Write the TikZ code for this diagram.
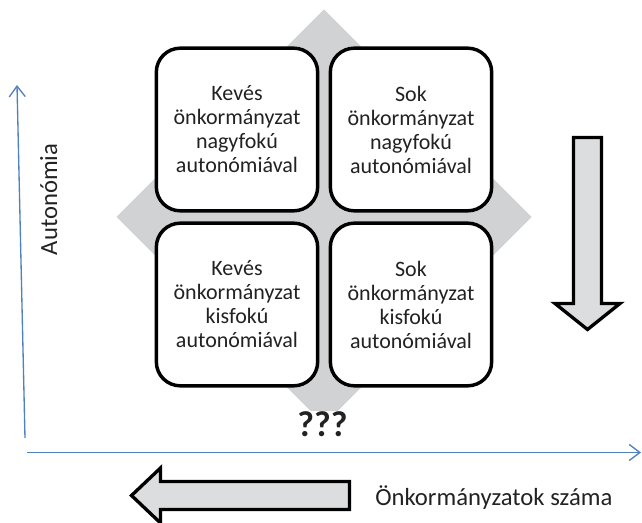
\documentclass[tikz,border=0pt]{standalone}
\usepackage{fontspec}
\setmainfont{Carlito}
\usetikzlibrary{positioning,arrows.meta}
\definecolor{axisblue}{HTML}{4F81BD}
\definecolor{rombgray}{HTML}{D1D2D4}
\definecolor{arrowgray}{HTML}{DCDDDE}
\definecolor{txt}{HTML}{222222}
\def\boxfont{\fontsize{16.5}{18}\selectfont}
\def\labfont{\fontsize{18.5}{22}\selectfont}
\def\qfont{\bfseries\fontsize{27}{30}\selectfont}

\begin{document}
\begin{tikzpicture}[x=0.75pt, y=-0.75pt, >={Straight Barb[length=8pt,width=12pt]}, cell/.style={draw, line width=2.6pt, rounded corners=18pt, fill=white, minimum width=121pt, minimum height=122pt, align=center, text=txt, font=\boxfont}, blockarrow/.style={draw, line width=2.5pt, line join=miter, fill=arrowgray}, axis/.style={axisblue, line width=1pt, ->}]
\useasboundingbox (0,0) rectangle (642,523);
\fill[rombgray] (324,9.5) -- (531.5,217) -- (324,424.5) -- (116.5,217) -- cycle;
\draw (237,129.5)node[cell](0){Kevés\\önkormányzat\\nagyfokú\\autonómiával};
\draw (411,129.5)node[cell](1){Sok\\önkormányzat\\nagyfokú\\autonómiával};
\draw (237,304.5)node[cell](2){Kevés\\önkormányzat\\kisfokú\\autonómiával};
\draw (411,304.5)node[cell](3){Sok\\önkormányzat\\kisfokú\\autonómiával};
\draw (322.5,424.5)node[fill=white, inner sep=1pt, text=txt, font=\qfont](4){???};
% axes
\coordinate (yb) at (25,438);
\coordinate (yt) at (17,85);
\coordinate (xl) at (27,452.5);
\coordinate (xr) at (641,452.5);
\draw[axis] (yb) -- (yt);
\draw[axis] (xl) -- (xr);
\draw (57,199.5)node[rotate=90, anchor=base, text=txt, font=\labfont](5){Autonómia};
\draw (375,505)node[anchor=base west, inner sep=0pt, text=txt, font=\labfont](6){Önkormányzatok száma};
% block arrows
\draw[blockarrow] (573.5,137.5) -- (601.5,137.5) -- (601.5,303.5) -- (620,303.5) -- (587.5,329.5) -- (555,303.5) -- (573.5,303.5) -- cycle;
\draw[blockarrow] (349.5,481.5) -- (349.5,509.5) -- (160.5,509.5) -- (160.5,523) -- (131.5,495.5) -- (160.5,468) -- (160.5,481.5) -- cycle;
\end{tikzpicture}
\end{document}
